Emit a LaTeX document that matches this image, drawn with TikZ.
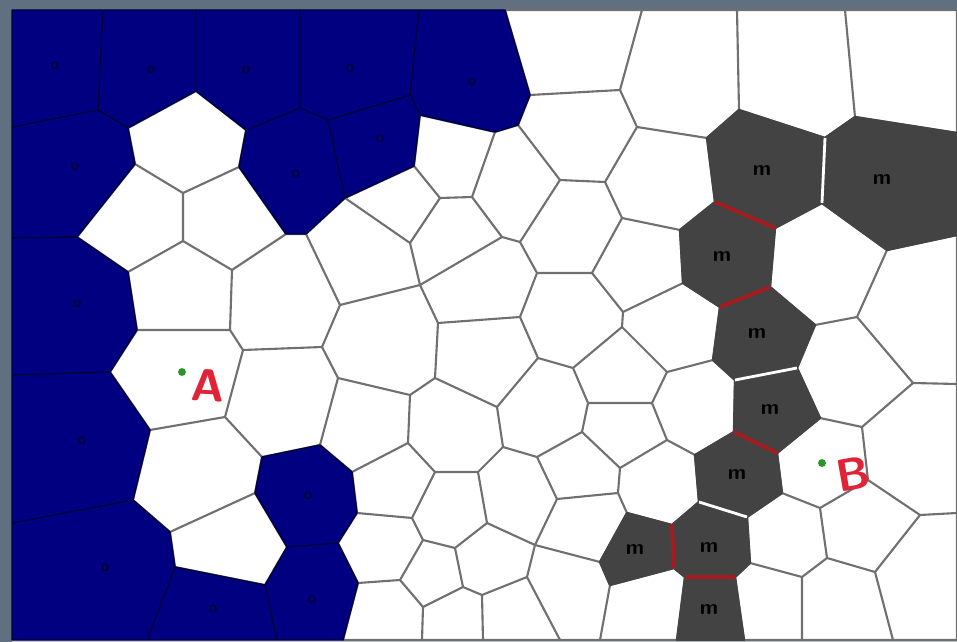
\documentclass[tikz,border=0pt]{standalone}
\usepackage{tikz}
\usepackage{xcolor}

\definecolor{framegray}{RGB}{96,112,128}
\definecolor{navyfill}{RGB}{0,0,128}
\definecolor{navyline}{RGB}{0,0,60}
\definecolor{cellgray}{RGB}{112,112,112}
\definecolor{mgray}{RGB}{67,67,67}
\definecolor{wallred}{RGB}{165,28,32}
\definecolor{penred}{RGB}{225,35,55}
\definecolor{dotgreen}{RGB}{40,150,40}

\tikzset{
  cellline/.style={draw=cellgray, line width=1.2pt, line join=round},
  bluecell/.style={fill=navyfill, draw=navyline, line width=0.8pt, line join=round},
  mcell/.style={fill=mgray, draw=mgray, line width=1.3pt, line join=round},
  redwall/.style={draw=wallred, line width=2.2pt},
  gapwall/.style={draw=white, line width=1.6pt},
  omark/.style={font=\sffamily\bfseries\small, text=navyline, inner sep=0pt},
  mlabel/.style={font=\sffamily\bfseries\fontsize{12}{12}\selectfont, text=black, inner sep=0pt},
  pendot/.style={circle, fill=dotgreen, inner sep=0pt, minimum size=4.5pt},
  penletter/.style={font=\sffamily\bfseries\fontsize{26}{26}\selectfont, text=penred, inner sep=0pt},
}

\begin{document}
\begin{tikzpicture}[x=0.02cm, y=-0.02cm]
\useasboundingbox (0,0) rectangle (957,642);

% Frame
\fill[framegray] (0,0) rectangle (957,642);
\fill[white] (12,10) rectangle (957,640);
\fill[framegray!40] (12,640) rectangle (957,642);

% Cell vertices (pixel grid)
\foreach \n/\x/\y in {
  c0/12/10, L1/12/127, L2/12/238, L3/12/375, L4/12/523, L5/12/640,
  v1/103/10, v4/196/10, v8/300/10, v20/419/10, v24/505/10, v38/642/10,
  t1/737/10, t2/845/10, c1/957/10,
  r1/957/133, r2/957/235, r3/957/384, r4/957/513, c2/957/640,
  v94/147/640, v96/277/640, b1/343/640, b2/422/640, b3/483/640,
  b4/560/640, b5/600/640, b6/677/640, b7/744/640, b8/802/640, v108/893/640,
  v2/98/110, v3/128/128, v5/196/91, v6/246/130, v7/300/108,
  v9/239/167, v10/183/193, v11/135/164, v12/77/237, v13/183/241,
  v14/128/272, v15/232/270, v16/286/234, v17/306/234, v18/328/120,
  v19/410/95, v21/420/115, v22/414/166, v23/345/198, v25/530/95,
  v26/518/125, v27/495/132, v28/440/198, v29/472/197, v30/410/243,
  v31/502/237, v32/520/242, v33/560/180, v34/537/273, v35/592/273,
  v36/605/182, v37/620/90, v39/637/127, v40/622/218, v41/623/312,
  v42/622/327, v43/573/368, v44/588/403, v45/667/372, v46/420/285,
  v47/340/305, v48/520/317, v49/438/323, v51/538/358, v52/435/378,
  v53/410/395, v54/338/378, v55/322/347, v56/243/350, v57/230/330,
  v58/320/445, v59/262/457, v60/352/472, v61/225/417, v62/408/443,
  v63/497/407, v64/503/447, v65/478/472, v66/435/472, v67/582/432,
  v68/537/457, v69/652/403, v70/667/440, v71/620/468, v72/618/493,
  v73/557/499, v74/627/513, v75/535/545, v76/487/523, v77/527/577,
  v78/455/548, v79/423/540, v80/412/518, v81/357/513, v82/400/580,
  v83/358/583, v84/338/543, v85/482/595, v86/463/587, v87/423/607,
  v88/137/330, v89/110/372, v90/150/430, v91/133/500, v92/170/532,
  v93/175/567, v95/265/585, v97/287/547, v98/255/493,
  v99/857/317, v100/913/383, v101/862/427, v102/868/480, v103/820/508,
  v104/920/515, v105/827/558, v106/802/577, v107/875/572,
  g1/707/138, g2/739/110, g3/825/138, g4/822/203, g5/775/228,
  g6/715/202, g7/855/117, g8/887/250, g9/680/230, g10/770/287,
  g11/720/307, g12/683/283, g13/815/325, g14/797/368, g15/735/380,
  g16/713/360, g17/820/418, g18/777/453, g19/734/432, g20/695/455,
  g21/782/493, g22/747/517, g23/699/502, g24/750/563, g25/735/577,
  g26/685/577, g27/674/568, g28/672/525, g29/610/585, g30/600/562}
  \coordinate (\n) at (\x,\y);

% White cells
\draw[cellline]
  (v3)--(v5)--(v6)--(v9)--(v10)--(v11)--cycle
  (v11)--(v10)--(v13)--(v14)--(v12)--cycle
  (v10)--(v9)--(v16)--(v15)--(v13)--cycle
  (v14)--(v13)--(v15)--(v57)--(v88)--cycle
  (v88)--(v57)--(v56)--(v61)--(v90)--(v89)--cycle
  (v90)--(v61)--(v59)--(v98)--(v92)--(v91)--cycle
  (v92)--(v98)--(v97)--(v95)--(v93)--cycle
  (v15)--(v16)--(v17)--(v47)--(v55)--(v56)--(v57)--cycle
  (v56)--(v55)--(v54)--(v58)--(v59)--(v61)--cycle
  (v17)--(v23)--(v30)--(v46)--(v47)--cycle
  (v23)--(v22)--(v28)--(v30)--cycle
  (v21)--(v27)--(v29)--(v28)--(v22)--cycle
  (v27)--(v26)--(v33)--(v32)--(v31)--(v29)--cycle
  (v30)--(v28)--(v29)--(v31)--(v46)--cycle
  (v46)--(v31)--(v32)--(v34)--(v48)--(v49)--cycle
  (v47)--(v46)--(v49)--(v52)--(v53)--(v54)--(v55)--cycle
  (v54)--(v53)--(v62)--(v60)--(v58)--cycle
  (v53)--(v52)--(v63)--(v64)--(v65)--(v66)--(v62)--cycle
  (v49)--(v48)--(v51)--(v63)--(v52)--cycle
  (v48)--(v34)--(v35)--(v41)--(v42)--(v43)--(v51)--cycle
  (v51)--(v43)--(v44)--(v67)--(v68)--(v64)--(v63)--cycle
  (v43)--(v42)--(v45)--(v69)--(v44)--cycle
  (v44)--(v69)--(v70)--(v71)--(v67)--cycle
  (v68)--(v67)--(v71)--(v72)--(v73)--cycle
  (v64)--(v68)--(v73)--(v75)--(v76)--(v65)--cycle
  (v73)--(v72)--(v74)--(g30)--(v75)--cycle
  (v66)--(v65)--(v76)--(v78)--(v79)--(v80)--cycle
  (v60)--(v62)--(v66)--(v80)--(v81)--cycle
  (v81)--(v80)--(v79)--(v82)--(v83)--(v84)--cycle
  (v76)--(v75)--(v77)--(v85)--(v86)--(v78)--cycle
  (v79)--(v78)--(v86)--(v87)--(v82)--cycle
  (v83)--(v82)--(v87)--(b2)--(b1)--cycle
  (v87)--(v86)--(v85)--(b3)--(b2)--cycle
  (v85)--(v77)--(b4)--(b3)--cycle
  (v75)--(g30)--(g29)--(b5)--(b4)--(v77)--cycle
  (g29)--(g27)--(g26)--(b6)--(b5)--cycle
  (v24)--(v38)--(v37)--(v25)--cycle
  (v25)--(v37)--(v39)--(v36)--(v33)--(v26)--cycle
  (v38)--(t1)--(g2)--(g1)--(v39)--(v37)--cycle
  (v39)--(g1)--(g6)--(g9)--(v40)--(v36)--cycle
  (v33)--(v36)--(v40)--(v35)--(v34)--(v32)--cycle
  (v40)--(g9)--(g12)--(v41)--(v35)--cycle
  (v41)--(g12)--(g11)--(g16)--(v45)--(v42)--cycle
  (v45)--(g16)--(g15)--(g19)--(g20)--(v70)--(v69)--cycle
  (v71)--(v70)--(g20)--(g23)--(g28)--(v74)--(v72)--cycle
  (t1)--(t2)--(g7)--(g3)--(g2)--cycle
  (t2)--(c1)--(r1)--(g7)--cycle
  (g5)--(g4)--(g8)--(v99)--(g13)--(g10)--cycle
  (g8)--(r2)--(r3)--(v100)--(v99)--cycle
  (g13)--(v99)--(v100)--(v101)--(g17)--(g14)--cycle
  (g17)--(v101)--(v102)--(v103)--(g21)--(g18)--cycle
  (v100)--(r3)--(r4)--(v104)--(v102)--(v101)--cycle
  (g21)--(v103)--(v105)--(v106)--(g24)--(g22)--cycle
  (v103)--(v102)--(v104)--(v107)--(v105)--cycle
  (v104)--(r4)--(c2)--(v108)--(v107)--cycle
  (v105)--(v107)--(v108)--(b8)--(v106)--cycle
  (g24)--(v106)--(b8)--(b7)--(g25)--cycle;

% Blue cells
\path[bluecell]
  (c0)--(v1)--(v2)--(L1)--cycle
  (v1)--(v4)--(v5)--(v3)--(v2)--cycle
  (v4)--(v8)--(v7)--(v6)--(v5)--cycle
  (v8)--(v20)--(v19)--(v18)--(v7)--cycle
  (v20)--(v24)--(v25)--(v26)--(v27)--(v21)--(v19)--cycle
  (L1)--(v2)--(v3)--(v11)--(v12)--(L2)--cycle
  (v6)--(v7)--(v18)--(v23)--(v17)--(v16)--(v9)--cycle
  (v18)--(v19)--(v21)--(v22)--(v23)--cycle
  (L2)--(v12)--(v14)--(v88)--(v89)--(L3)--cycle
  (L3)--(v89)--(v90)--(v91)--(L4)--cycle
  (L4)--(v91)--(v92)--(v93)--(v94)--(L5)--cycle
  (v94)--(v93)--(v95)--(v96)--cycle
  (v59)--(v58)--(v60)--(v81)--(v84)--(v97)--(v98)--cycle
  (v97)--(v84)--(v83)--(b1)--(v96)--(v95)--cycle;

% Grey cells
\path[mcell]
  (g1)--(g2)--(g3)--(g4)--(g5)--(g6)--cycle
  (g7)--(r1)--(r2)--(g8)--(g4)--(g3)--cycle
  (g9)--(g6)--(g5)--(g10)--(g11)--(g12)--cycle
  (g11)--(g10)--(g13)--(g14)--(g15)--(g16)--cycle
  (g15)--(g14)--(g17)--(g18)--(g19)--cycle
  (g20)--(g19)--(g18)--(g21)--(g22)--(g23)--cycle
  (g23)--(g22)--(g24)--(g25)--(g26)--(g27)--(g28)--cycle
  (v74)--(g28)--(g27)--(g29)--(g30)--cycle
  (g26)--(g25)--(b7)--(b6)--cycle;

% Walls between grey cells
\draw[redwall] (g6)--(g5) (g11)--(g10) (g19)--(g18) (g28)--(g27) (g26)--(g25);
\draw[gapwall] (g3)--(g4) (g15)--(g14) (g23)--(g22);

% Cell labels
\foreach \x/\y [count=\i] in {55/66, 151/70, 246/70, 350/69, 472/82, 75/167,
    296/174, 380/139, 77/304, 82/441, 105/568, 213/609, 308/496, 312/600}
  \node[omark] (o\i) at (\x,\y) {o};
\foreach \x/\y [count=\i] in {762/171, 882/180, 722/257, 757/334, 770/410,
    737/475, 709/548, 635/550, 709/610}
  \node[mlabel] (m\i) at (\x,\y) {m};

% Points A and B
\node[pendot] (dotA) at (182,372) {};
\node[penletter, rotate=-3] (A) at (208,386) {A};
\node[pendot] (dotB) at (822,463) {};
\node[penletter, rotate=10] (B) at (853,474) {B};

\end{tikzpicture}
\end{document}
